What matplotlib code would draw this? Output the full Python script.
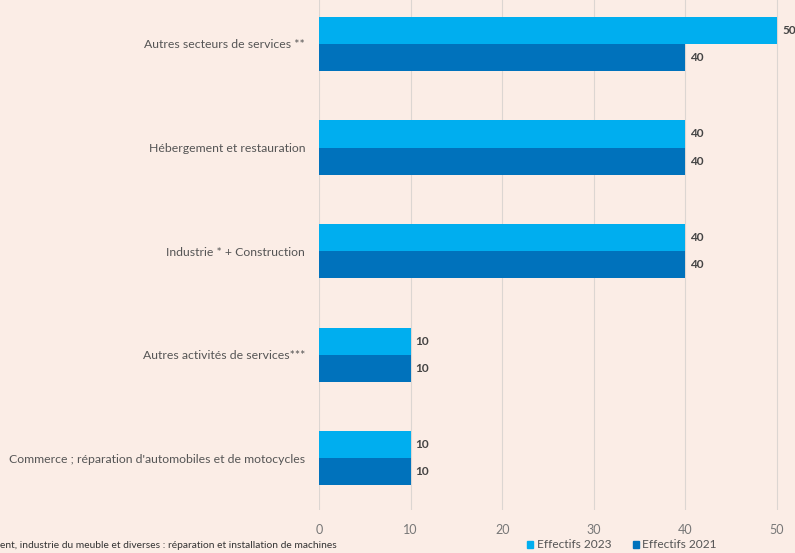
import matplotlib.pyplot as plt
from matplotlib.patches import Patch
import numpy as np

categories = [
    "Commerce ; réparation d'automobiles et de motocycles",
    "Autres activités de services***",
    "Industrie * + Construction",
    "Hébergement et restauration",
    "Autres secteurs de services **",
]
effectifs_2023 = [10, 10, 40, 40, 50]
effectifs_2021 = [10, 10, 40, 40, 40]
xticks = [0, 10, 20, 30, 40, 50]
footnote = "ent, industrie du meuble et diverses : réparation et installation de machines"

bg = '#fbede6'
c2023 = '#00aeef'
c2021 = '#0072bc'

plt.rcParams['font.family'] = ['Lato', 'DejaVu Sans']

fig = plt.figure(figsize=(7.95, 5.53), dpi=100, facecolor=bg)
ax = fig.add_axes([319 / 795, 1 - 510 / 553, 1 - 319 / 795, 510 / 553])
ax.set_facecolor(bg)

y = np.arange(len(categories))
h = 0.261
ax.barh(y + h / 2, effectifs_2023, height=h, color=c2023, zorder=3)
ax.barh(y - h / 2, effectifs_2021, height=h, color=c2021, zorder=3)

# value labels next to bar ends
for yi, v in zip(y, effectifs_2023):
    ax.text(v + 0.55, yi + h / 2, str(v), va='center', ha='left',
            fontsize=8.5, fontweight='bold', color='#444444')
for yi, v in zip(y, effectifs_2021):
    ax.text(v + 0.55, yi - h / 2, str(v), va='center', ha='left',
            fontsize=8.5, fontweight='bold', color='#444444')

ax.set_xlim(0, 476 / 9.16)
ax.set_ylim(-0.502, 4.425)
ax.set_yticks(y)
ax.set_yticklabels(categories, fontsize=8.8, color='#555555')
ax.set_xticks(xticks)
ax.set_xticklabels([str(t) for t in xticks], fontsize=9, color='#777777')
ax.tick_params(axis='both', length=0)
ax.tick_params(axis='y', pad=10)
ax.tick_params(axis='x', pad=10)
ax.grid(axis='x', color='#dcd6d2', linewidth=0.8, zorder=0)
for s in ax.spines.values():
    s.set_visible(False)

fig.text(0, 1 - 545 / 553, footnote, ha='left', va='center', fontsize=7.4, color='#333333')

handles = [Patch(color=c2023, label='Effectifs 2023'),
           Patch(color=c2021, label='Effectifs 2021')]
fig.legend(handles=handles, loc='center', bbox_to_anchor=(622 / 795, 1 - 545 / 553),
           ncol=2, frameon=False, fontsize=8.6, handlelength=0.5, handleheight=0.5,
           handletextpad=0.3, columnspacing=1.8, labelcolor='#555555')

fig.savefig('out.png', dpi=100, facecolor=bg)
